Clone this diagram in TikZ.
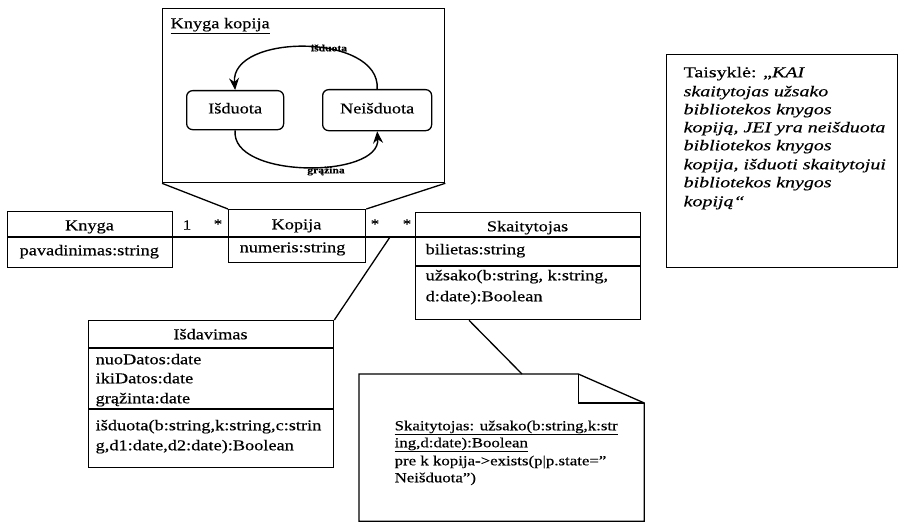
\documentclass[tikz,border=0pt]{standalone}
\usepackage{fontspec}
\setmainfont{Liberation Serif}[FakeStretch=1.22,FakeBold=0.4]
\newfontfamily\rulefont{Liberation Serif}[FakeStretch=1.33,FakeBold=0.4]
\usetikzlibrary{arrows.meta}
\begin{document}
\begin{tikzpicture}[x=1pt,y=-1pt,
  line width=1.3pt,
  box/.style={draw, rectangle, inner sep=0pt, anchor=north west},
  statebox/.style={draw, rectangle, rounded corners=6pt, inner sep=0pt, anchor=north west},
  txt/.style={inner sep=0pt, anchor=west, font=\fontsize{15}{18}\selectfont, text height=10pt, text depth=3.5pt},
  ttl/.style={txt, anchor=center},
  notetxt/.style={txt, font=\fontsize{13.8}{17}\selectfont},
  ruletxt/.style={txt, font=\rulefont\itshape\fontsize{15}{18}\selectfont},
  mult/.style={inner sep=0pt, font=\fontsize{14}{16}\selectfont},
  lbl/.style={inner sep=0pt, font=\bfseries\fontsize{9.5}{10}\selectfont},
  trans/.style={line width=1.4pt, -{Stealth[length=12pt,width=10pt,inset=4pt]}}
]
\useasboundingbox (0,0) rectangle (901,524);

% ---- state diagram of a book copy ----
\node[box, minimum width=282pt, minimum height=174pt] (state) at (162,8) {};
\node[txt] (statettl) at (170,25) {\underline{Knyga kopija}};
\node[statebox, minimum width=97pt, minimum height=39pt] (isd) at (186,90) {};
\node[ttl] (isdtxt) at (isd.center) {Išduota};
\node[statebox, minimum width=109pt, minimum height=41pt] (neis) at (322,89) {};
\node[ttl] (neistxt) at (neis.center) {Neišduota};
\draw[trans] (neis.north) .. controls (381,33) and (230,33) .. (isd.north);
\draw[trans] (isd.south) .. controls (230,179) and (381,179) .. (neis.south);
\node[lbl] (lblup) at (329,48) {išduota};
\node[lbl] (lbldown) at (326,171) {grąžina};

% ---- classes ----
\node[box, minimum width=165pt, minimum height=56pt] (knyga) at (7,211) {};
\node[box, minimum width=137pt, minimum height=53pt] (kopija) at (228,209) {};
\node[box, minimum width=225pt, minimum height=107pt] (skait) at (415,212) {};
\node[box, minimum width=245pt, minimum height=147pt] (isdav) at (88,320) {};

% compartment dividers
\draw (knyga.west |- 0,237) -- (knyga.east |- 0,237);
\draw (kopija.west |- 0,237) -- (kopija.east |- 0,237);
\draw (skait.west |- 0,237) -- (skait.east |- 0,237);
\draw (skait.west |- 0,266) -- (skait.east |- 0,266);
\draw (isdav.west |- 0,348) -- (isdav.east |- 0,348);
\draw (isdav.west |- 0,409) -- (isdav.east |- 0,409);

% class texts
\node[ttl] (knygattl) at (89.5,227) {Knyga};
\node[txt] (knygaa1) at (19,252) {pavadinimas:string};
\node[ttl] (kopttl) at (296.5,226) {Kopija};
\node[txt] (kopa1) at (239,249) {numeris:string};
\node[ttl] (skttl) at (527.5,228) {Skaitytojas};
\node[txt] (ska1) at (425,251) {bilietas:string};
\node[txt] (sko1) at (425,277) {užsako(b:string, k:string,};
\node[txt] (sko2) at (425,298) {d:date):Boolean};
\node[ttl] (isdttl) at (210.5,336) {Išdavimas};
\node[txt] (isda1) at (95,361) {nuoDatos:date};
\node[txt] (isda2) at (95,380) {ikiDatos:date};
\node[txt] (isda3) at (95,400) {grąžinta:date};
\node[txt] (isdo1) at (95,427) {išduota(b:string,k:string,c:strin};
\node[txt] (isdo2) at (95,447) {g,d1:date,d2:date):Boolean};

% ---- associations ----
\draw (knyga.east |- 0,237) -- (kopija.west |- 0,237);
\draw (kopija.east |- 0,237) -- (skait.west |- 0,237);
\node[mult] (m1) at (187,225) {1};
\node[mult] (m2) at (218,224) {*};
\node[mult] (m3) at (375,224) {*};
\node[mult] (m4) at (407,224) {*};
\coordinate (lnk) at (390,237);
\draw (lnk) -- (isdav.north east);
\draw (state.south west) -- (kopija.north west);
\draw (state.south east) -- (kopija.north east);

% ---- note with folded corner ----
\node[inner sep=0pt, minimum width=284pt, minimum height=146pt, anchor=north west] (note) at (359,374) {};
\draw (note.north west) -- ([xshift=-66pt]note.north east) -- ([yshift=-29pt]note.north east)
  -- (note.south east) -- (note.south west) -- cycle;
\draw ([xshift=-66pt]note.north east) -- ([xshift=-66pt,yshift=-29pt]note.north east)
  -- ([yshift=-29pt]note.north east);
\draw ([xshift=54pt]skait.south west) -- ([xshift=163pt]note.north west);
\node[notetxt] (n1) at (394,427) {\underline{Skaitytojas: užsako(b:string,k:str}};
\node[notetxt] (n2) at (394,444) {\underline{ing,d:date):Boolean}};
\node[notetxt] (n3) at (394,462) {pre k kopija->exists(p|p.state=”};
\node[notetxt] (n4) at (394,479) {Neišduota”)};

% ---- rule box ----
\node[box, minimum width=231pt, minimum height=213pt] (rule) at (666,54) {};
\node[ruletxt] (r1) at (683,74) {{\upshape Taisyklė: „}KAI};
\node[ruletxt] (r2) at (683,93) {skaitytojas užsako};
\node[ruletxt] (r3) at (683,111) {bibliotekos knygos};
\node[ruletxt] (r4) at (683,129) {kopiją, JEI yra neišduota};
\node[ruletxt] (r5) at (683,147) {bibliotekos knygos};
\node[ruletxt] (r6) at (683,166) {kopija, išduoti skaitytojui};
\node[ruletxt] (r7) at (683,184) {bibliotekos knygos};
\node[ruletxt] (r8) at (683,203) {kopiją“};
\end{tikzpicture}
\end{document}
